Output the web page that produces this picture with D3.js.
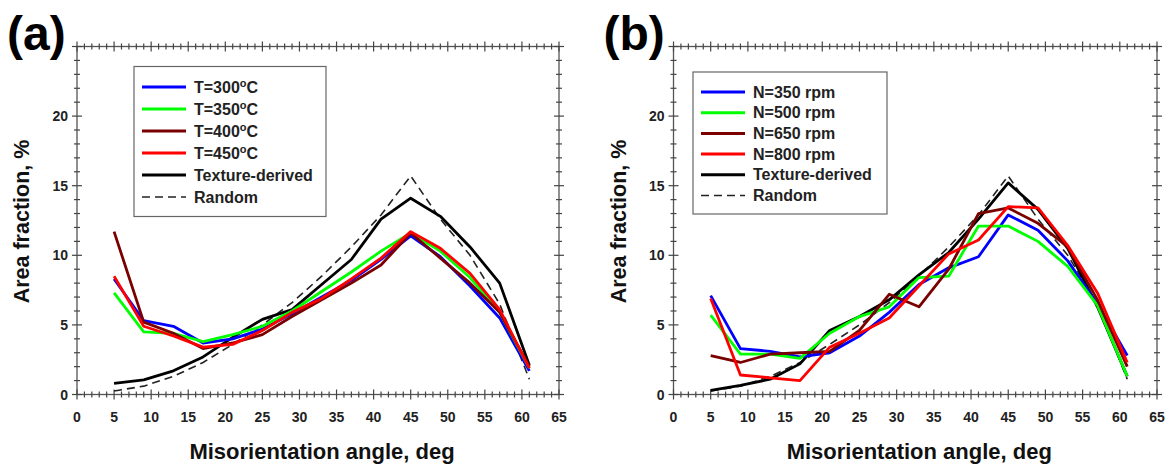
<!DOCTYPE html>
<html>
<head>
<meta charset="utf-8">
<script src="https://cdn.jsdelivr.net/npm/d3@7"></script>
<style>
  body { margin: 0; background: #fff; }
  text { font-family: Arial, "Liberation Sans", sans-serif; }
</style>
</head>
<body>
<svg width="1168" height="464"></svg>
<script>
// misorientation angle bins (deg)
var angles = [5, 9, 13, 17, 21, 25, 29, 33, 37, 41, 45, 49, 53, 57, 61];

// random (Mackenzie) distribution, same in both panels
var random = [0.25, 0.6, 1.3, 2.3, 3.6, 5.0, 6.6, 8.5, 10.6, 12.9, 15.7, 12.6, 10.0, 6.5, 1.1];

// panel (a): temperature series
var t300 = [8.3, 5.3, 4.9, 3.7, 4.0, 4.7, 5.8, 7.0, 8.2, 9.7, 11.4, 9.9, 7.8, 5.5, 1.7];
var t350 = [7.3, 4.5, 4.4, 3.8, 4.3, 4.9, 6.0, 7.4, 8.8, 10.3, 11.6, 10.3, 8.4, 5.9, 1.9];
var t400 = [11.7, 5.2, 4.4, 3.3, 3.7, 4.3, 5.6, 6.8, 8.0, 9.3, 11.6, 9.8, 8.0, 5.9, 2.0];
var t450 = [8.5, 4.9, 4.2, 3.4, 3.6, 4.6, 5.9, 6.9, 8.3, 9.8, 11.7, 10.5, 8.7, 6.1, 1.9];
var textureA = [0.8, 1.05, 1.7, 2.7, 4.1, 5.4, 6.1, 7.9, 9.7, 12.6, 14.1, 12.8, 10.6, 8.0, 2.1];

// panel (b): rotation speed series
var n350 = [7.1, 3.3, 3.1, 2.7, 3.0, 4.2, 5.9, 7.9, 9.1, 9.9, 12.9, 11.8, 9.6, 6.5, 2.8];
var n500 = [5.7, 2.9, 2.9, 2.6, 4.4, 5.6, 6.3, 8.4, 8.5, 12.1, 12.1, 11.0, 9.2, 6.4, 1.3];
var n650 = [2.8, 2.3, 2.9, 3.0, 3.1, 4.6, 7.2, 6.3, 9.0, 13.0, 13.4, 12.3, 10.6, 6.8, 2.0];
var n800 = [6.9, 1.4, 1.2, 1.0, 3.4, 4.4, 5.5, 7.8, 10.1, 11.1, 13.5, 13.4, 10.7, 7.3, 2.3];
var textureB = [0.3, 0.65, 1.1, 2.2, 4.6, 5.6, 6.8, 8.6, 10.2, 12.6, 15.2, 13.3, 10.5, 6.3, 1.3];

var xTickLabels = [0, 5, 10, 15, 20, 25, 30, 35, 40, 45, 50, 55, 60, 65];
var yTickLabels = [0, 5, 10, 15, 20];

var svg = d3.select("svg");

function drawPanel(opt) {
  var x = d3.scaleLinear().domain([0, 65]).range([opt.left, opt.right]);
  var y = d3.scaleLinear().domain([0, 25]).range([394.5, 46.5]);
  var g = svg.append("g");

  // frame
  g.append("rect")
    .attr("x", x(0)).attr("y", y(25))
    .attr("width", x(65) - x(0)).attr("height", y(0) - y(25))
    .attr("fill", "none").attr("stroke", "#555").attr("stroke-width", 1.3);

  // crossing ticks on all four sides
  var tickCol = "#444";
  d3.range(0, 66).forEach(function(v) {
    var len = v % 5 == 0 ? 5 : 3;
    [y(0), y(25)].forEach(function(yy) {
      g.append("line").attr("x1", x(v)).attr("x2", x(v))
        .attr("y1", yy - len).attr("y2", yy + len)
        .attr("stroke", tickCol).attr("stroke-width", 1.2);
    });
  });
  d3.range(0, 26).forEach(function(v) {
    var len = v % 5 == 0 ? 5 : 3;
    [x(0), x(65)].forEach(function(xx) {
      g.append("line").attr("y1", y(v)).attr("y2", y(v))
        .attr("x1", xx - len).attr("x2", xx + len)
        .attr("stroke", tickCol).attr("stroke-width", 1.2);
    });
  });

  g.selectAll(".xl").data(xTickLabels).enter().append("text")
    .attr("x", function(d) { return x(d); }).attr("y", 422)
    .attr("text-anchor", "middle").attr("font-size", 14).attr("font-weight", "bold")
    .attr("fill", "#222").text(function(d) { return d; });
  g.selectAll(".yl").data(yTickLabels).enter().append("text")
    .attr("x", x(0) - 9).attr("y", function(d) { return y(d) + 5; })
    .attr("text-anchor", "end").attr("font-size", 14).attr("font-weight", "bold")
    .attr("fill", "#222").text(function(d) { return d; });

  // axis titles
  g.append("text").attr("x", (x(0) + x(65)) / 2 + 4).attr("y", 459)
    .attr("text-anchor", "middle").attr("font-size", 22).attr("font-weight", "bold")
    .attr("fill", "#111").text("Misorientation angle, deg");
  g.append("text")
    .attr("transform", "translate(" + (x(0) - 48) + "," + ((y(0) + y(25)) / 2 + 1) + ") rotate(-90)")
    .attr("text-anchor", "middle").attr("font-size", 21.5).attr("font-weight", "bold")
    .attr("fill", "#111").text("Area fraction, %");

  // panel letter
  g.append("text").attr("x", opt.left - 70).attr("y", 50)
    .attr("font-size", 48).attr("font-weight", "bold").text(opt.letter);

  var line = d3.line()
    .x(function(d, i) { return x(angles[i]); })
    .y(function(d) { return y(d); });

  // random dashed first, then texture, then measured series
  g.append("path").attr("d", line(random)).attr("fill", "none")
    .attr("stroke", "#222").attr("stroke-width", 1.6).attr("stroke-dasharray", "8,5");
  g.append("path").attr("d", line(opt.texture)).attr("fill", "none")
    .attr("stroke", "#000").attr("stroke-width", 2.8).attr("stroke-linejoin", "round");
  opt.series.forEach(function(s) {
    g.append("path").attr("d", line(s.values)).attr("fill", "none")
      .attr("stroke", s.color).attr("stroke-width", 2.8).attr("stroke-linejoin", "round");
  });

  // legend
  var lg = opt.legend;
  g.append("rect").attr("x", lg.x).attr("y", lg.y).attr("width", lg.w).attr("height", lg.h)
    .attr("fill", "#fff").attr("stroke", "#666").attr("stroke-width", 1.2);
  var items = opt.series.map(function(s) { return {label: s.label, sup: s.sup, color: s.color}; });
  items.push({label: "Texture-derived", color: "#000"});
  items.push({label: "Random", color: "#222", dash: true});
  items.forEach(function(it, i) {
    var yy = lg.row0 + i * lg.step;
    g.append("line").attr("x1", lg.x + 8).attr("x2", lg.x + 52).attr("y1", yy).attr("y2", yy)
      .attr("stroke", it.color).attr("stroke-width", it.dash ? 1.6 : 3)
      .attr("stroke-dasharray", it.dash ? "8,5" : null);
    var t = g.append("text").attr("x", lg.x + 60).attr("y", yy + 5.5)
      .attr("font-size", 16).attr("font-weight", "bold").attr("fill", "#222");
    if (it.sup) {
      t.append("tspan").text(it.label);
      t.append("tspan").attr("dy", -6).attr("font-size", 11).text("o");
      t.append("tspan").attr("dy", 6).text("C");
    } else {
      t.text(it.label);
    }
  });
}

drawPanel({
  letter: "(a)", left: 77, right: 559, texture: textureA,
  legend: {x: 134, y: 66.5, w: 192, h: 150, row0: 87, step: 22},
  series: [
    {label: "T=300", sup: true, values: t300, color: "#0000ff"},
    {label: "T=350", sup: true, values: t350, color: "#00ff00"},
    {label: "T=400", sup: true, values: t400, color: "#7a0000"},
    {label: "T=450", sup: true, values: t450, color: "#ff0000"}
  ]
});

drawPanel({
  letter: "(b)", left: 673.5, right: 1157, texture: textureB,
  legend: {x: 693, y: 72, w: 194, h: 142, row0: 92, step: 20.7},
  series: [
    {label: "N=350 rpm", values: n350, color: "#0000ff"},
    {label: "N=500 rpm", values: n500, color: "#00ff00"},
    {label: "N=650 rpm", values: n650, color: "#7a0000"},
    {label: "N=800 rpm", values: n800, color: "#ff0000"}
  ]
});
</script>
</body>
</html>
